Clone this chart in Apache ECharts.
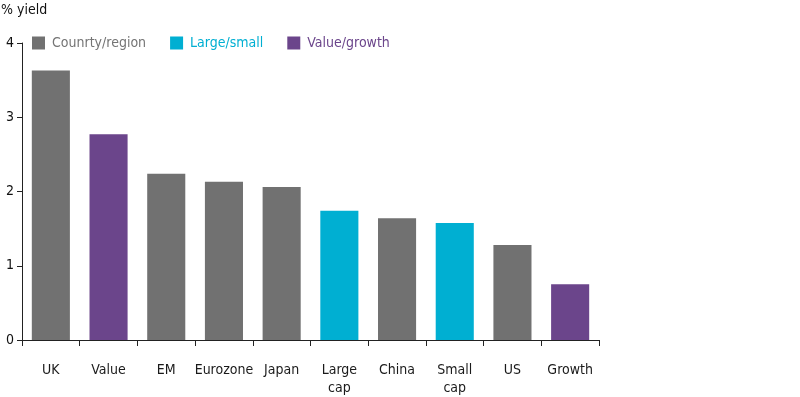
<!DOCTYPE html>
<html>
<head>
<meta charset="utf-8">
<script src="https://cdn.jsdelivr.net/npm/echarts@6/dist/echarts.min.js"></script>
<style>
  html, body { margin: 0; padding: 0; background: #fff; }
  #chart { width: 800px; height: 397px; }
</style>
</head>
<body>
<div id="chart"></div>
<script>
// categories and yields
var categories = ['UK', 'Value', 'EM', 'Eurozone', 'Japan', 'Large\ncap', 'China', 'Small\ncap', 'US', 'Growth'];
var yields = [3.63, 2.77, 2.24, 2.13, 2.06, 1.74, 1.64, 1.575, 1.28, 0.75];
var groups = ['Counrty/region', 'Value/growth', 'Counrty/region', 'Counrty/region', 'Counrty/region',
              'Large/small', 'Counrty/region', 'Large/small', 'Counrty/region', 'Value/growth'];
var groupNames = ['Counrty/region', 'Large/small', 'Value/growth'];
var groupColors = ['#717171', '#00afd2', '#6b458b'];
var yTicks = [0, 1, 2, 3, 4];

var FONT = '"DejaVu Sans Condensed", "DejaVu Sans", sans-serif';

var chart = echarts.init(document.getElementById('chart'));

// one series per group, '-' where the category belongs to another group
var series = groupNames.map(function (name, gi) {
  return {
    name: name,
    type: 'bar',
    stack: 'all',
    barWidth: '66%',
    itemStyle: { color: groupColors[gi] },
    data: yields.map(function (v, i) { return groups[i] === name ? v : '-'; })
  };
});

var option = {
  animation: false,
  textStyle: { fontFamily: FONT },
  title: {
    text: '% yield',
    left: -4,
    top: -2,
    textStyle: { fontFamily: FONT, fontSize: 14, fontWeight: 'normal', color: '#111' }
  },
  legend: {
    left: 27,
    top: 31,
    itemWidth: 13,
    itemHeight: 13,
    itemGap: 24,
    icon: 'rect',
    data: groupNames.map(function (n, gi) {
      return { name: n, textStyle: { color: gi === 0 ? '#747474' : groupColors[gi] } };
    }),
    textStyle: { fontFamily: FONT, fontSize: 14, padding: [0, 0, 0, 2] }
  },
  grid: { left: 22, right: 201, top: 43, bottom: 56, containLabel: false },
  xAxis: {
    type: 'category',
    data: categories,
    axisLine: { lineStyle: { color: '#222', width: 1 } },
    axisTick: { show: true, length: 6, alignWithLabel: false, lineStyle: { color: '#222' } },
    axisLabel: { color: '#1a1a1a', fontSize: 14, margin: 21, lineHeight: 18, interval: 0, fontFamily: FONT }
  },
  yAxis: {
    type: 'value',
    min: yTicks[0],
    max: yTicks[yTicks.length - 1],
    interval: 1,
    splitLine: { show: false },
    axisLine: { show: true, lineStyle: { color: '#222', width: 1 } },
    axisTick: { show: true, length: 5, lineStyle: { color: '#222' } },
    axisLabel: { color: '#111', fontSize: 14, margin: 8, fontFamily: FONT }
  },
  series: series
};

chart.setOption(option);
</script>
</body>
</html>
